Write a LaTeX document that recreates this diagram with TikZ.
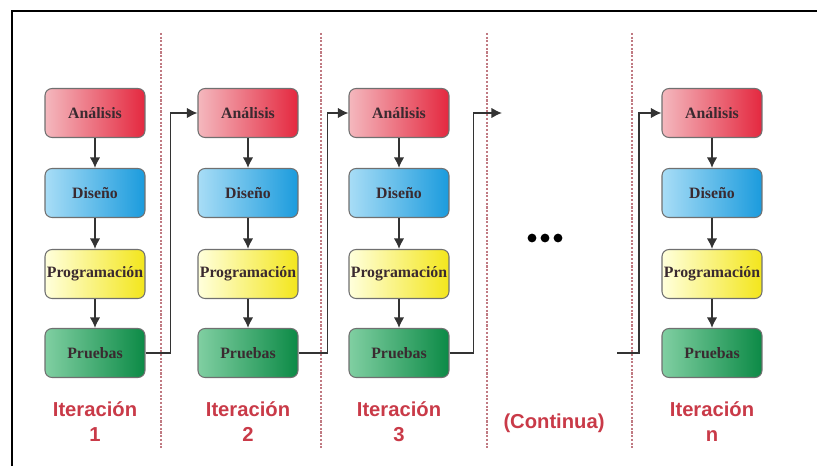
\documentclass[tikz,border=0pt]{standalone}
\usepackage{fontspec}
\setmainfont{Liberation Serif}
\setsansfont{Liberation Sans}
\usepackage{tikz}
\usetikzlibrary{arrows.meta, positioning, calc}
\definecolor{analisislight}{HTML}{F4B8BE}
\definecolor{analisisdark}{HTML}{E4283F}
\definecolor{disenolight}{HTML}{A8DDF6}
\definecolor{disenodark}{HTML}{1B9BDD}
\definecolor{proglight}{HTML}{FFFFDC}
\definecolor{progdark}{HTML}{F3E61C}
\definecolor{pruebaslight}{HTML}{80CFA2}
\definecolor{pruebasdark}{HTML}{0C8A46}
\definecolor{phaseedge}{HTML}{707070}
\definecolor{phasetext}{HTML}{3A2A30}
\definecolor{flowgray}{HTML}{333333}
\definecolor{dividerred}{HTML}{C07A82}
\definecolor{labelred}{HTML}{C93A48}

\begin{document}
\begin{tikzpicture}[x=0.02cm, y=-0.02cm,
    phase/.style={draw=phaseedge, line width=0.6pt, rounded corners=4pt,
      minimum width=2cm, minimum height=0.98cm, inner sep=1pt,
      font=\bfseries\fontsize{9}{10}\selectfont, text=phasetext},
    flow/.style={draw=flowgray, line width=1pt, -{Latex[length=6pt,width=6pt]}},
    divider/.style={draw=dividerred, line width=0.9pt, dash pattern=on 1.2pt off 0.9pt},
    itlabel/.style={font=\sffamily\bfseries\fontsize{11.5}{14.2}\selectfont,
      text=labelred, align=center}]
  \useasboundingbox (0,0) rectangle (817,466);

  % outer frame (top and left edges only)
  \draw[line width=1.2pt] (12,466) -- (12,11) -- (817,11);

  % dotted separators between iterations
  \foreach \x in {161,321,487,632} {
    \draw[divider] (\x,33) -- (\x,448);
  }

  % one column of phases per iteration
  \foreach \c/\x in {1/95,2/248,3/399,n/712} {
    \node[phase, left color=analisislight, right color=analisisdark] (ana\c) at (\x,113) {Análisis};
    \node[phase, left color=disenolight, right color=disenodark] (dis\c) at (\x,193) {Diseño};
    \node[phase, left color=proglight, right color=progdark] (prog\c) at (\x,274) {Programación};
    \node[phase, left color=pruebaslight, right color=pruebasdark] (pru\c) at (\x,353) {Pruebas};
    \draw[flow] (ana\c) -- (dis\c);
    \draw[flow] (dis\c) -- (prog\c);
    \draw[flow] (prog\c) -- (pru\c);
    \node[itlabel] (it\c) at (\x,422) {Iteración\\\c};
  }

  % links from one iteration to the next
  \draw[flow] (pru1.east) -- ++(25,0) |- (ana2.west);
  \draw[flow] (pru2.east) -- ++(29,0) |- (ana3.west);
  \coordinate (contin) at (502,113);
  \coordinate (contout) at (617,353);
  \draw[flow] (pru3.east) -- ++(24,0) |- (contin);
  \draw[flow] (contout) -- ++(22,0) |- (anan.west);

  % gap marker
  \foreach \x in {532,545,558} {
    \fill (\x,238) circle (2.5pt);
  }
  \node[itlabel] (cont) at (554,423) {(Continua)};
\end{tikzpicture}
\end{document}
